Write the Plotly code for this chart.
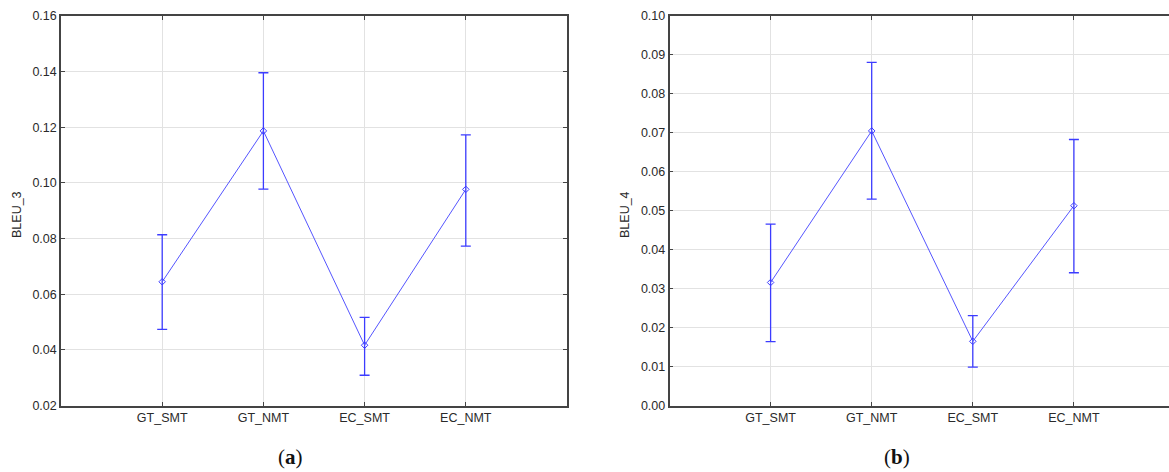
import plotly.graph_objects as go

categories = ["GT_SMT", "GT_NMT", "EC_SMT", "EC_NMT"]
positions = [1, 2, 3, 4]

bleu3_mean = [0.0645, 0.1187, 0.0417, 0.0977]
bleu3_upper = [0.0814, 0.1396, 0.0517, 0.1173]
bleu3_lower = [0.0474, 0.0978, 0.0309, 0.0773]

bleu4_mean = [0.0316, 0.0705, 0.0165, 0.0513]
bleu4_upper = [0.0466, 0.0881, 0.0231, 0.0683]
bleu4_lower = [0.0164, 0.0530, 0.0099, 0.0341]

bleu3_ticks = [0.02, 0.04, 0.06, 0.08, 0.10, 0.12, 0.14, 0.16]
bleu4_ticks = [0.00, 0.01, 0.02, 0.03, 0.04, 0.05, 0.06, 0.07, 0.08, 0.09, 0.10]

W, H = 1169, 472
LINE = "rgb(85,85,255)"
ERR = "rgb(60,60,255)"
FONT = "Liberation Sans, Arial, sans-serif"


def trace(mean, upper, lower, xa, ya):
    return go.Scatter(
        x=positions, y=mean, xaxis=xa, yaxis=ya, mode="lines+markers",
        line=dict(color=LINE, width=1),
        marker=dict(symbol="diamond-open", size=5, color=ERR, line=dict(width=1, color=ERR)),
        error_y=dict(type="data", symmetric=False,
                     array=[u - m for u, m in zip(upper, mean)],
                     arrayminus=[m - l for m, l in zip(mean, lower)],
                     color=ERR, thickness=1.3, width=5),
        showlegend=False, hoverinfo="skip",
    )


fig = go.Figure()
fig.add_trace(trace(bleu3_mean, bleu3_upper, bleu3_lower, "x", "y"))
fig.add_trace(trace(bleu4_mean, bleu4_upper, bleu4_lower, "x2", "y2"))

ydom = [1 - 405.6 / H, 1 - 16 / H]
axcommon = dict(showline=True, linecolor="#444", linewidth=1.5, ticks="inside",
                ticklen=4, tickcolor="#444", gridcolor="#e2e2e2", gridwidth=1,
                zeroline=False, automargin=False,
                tickfont=dict(family=FONT, size=12.5, color="#2a2a2a"))

fig.update_layout(
    width=W, height=H, margin=dict(l=0, r=0, t=0, b=0, autoexpand=False),
    paper_bgcolor="white", plot_bgcolor="white",
    xaxis=dict(domain=[61 / W, 567 / W], range=[0, 5], tickvals=positions,
               ticktext=categories, mirror="ticks", anchor="y", **axcommon),
    yaxis=dict(domain=ydom, range=[0.02, 0.16], tickvals=bleu3_ticks,
               ticktext=[f"{v:.2f}" for v in bleu3_ticks], mirror="ticks",
               anchor="x", **axcommon),
    xaxis2=dict(domain=[669.5 / W, 1.0], range=[0, (W - 670) / 101],
                tickvals=positions, ticktext=categories, mirror="ticks",
                anchor="y2", **axcommon),
    yaxis2=dict(domain=ydom, range=[0, 0.10], tickvals=bleu4_ticks,
                ticktext=[f"{v:.2f}" for v in bleu4_ticks], mirror=False,
                anchor="x2", **axcommon),
)

annots = [
    dict(text="BLEU_3", x=17 / W, y=1 - 215 / H, textangle=-90),
    dict(text="BLEU_4", x=625 / W, y=1 - 215 / H, textangle=-90),
]
for a in annots:
    fig.add_annotation(xref="paper", yref="paper", xanchor="center", yanchor="middle",
                       showarrow=False, font=dict(family=FONT, size=12.5, color="#2a2a2a"), **a)

for lbl, xc in [("a", 290), ("b", 897)]:
    fig.add_annotation(xref="paper", yref="paper", x=xc / W, y=1 - 457 / H,
                       xanchor="center", yanchor="middle", showarrow=False,
                       text=f"(<b>{lbl}</b>)",
                       font=dict(family="Liberation Serif, DejaVu Serif, serif", size=21, color="#111"))

fig.write_html(
    "out.html",
    config={"displayModeBar": False},
    post_script="document.body.style.margin='0';document.body.style.overflow='hidden';",
)
